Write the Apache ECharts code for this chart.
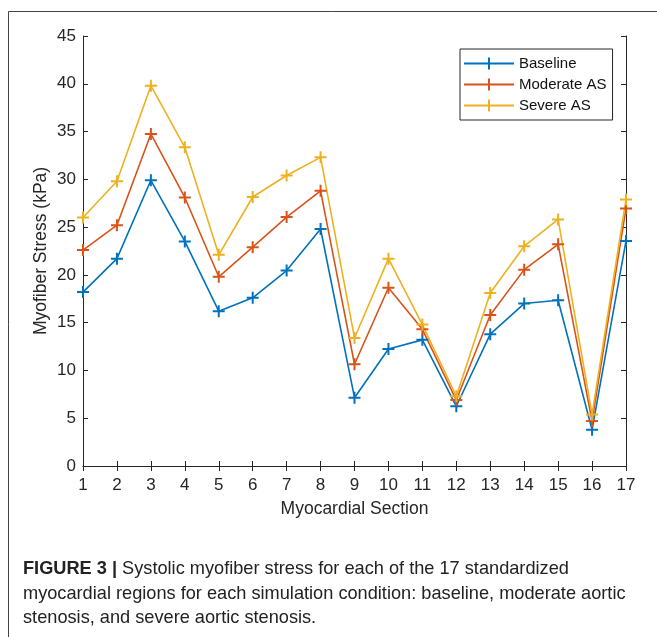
<!DOCTYPE html>
<html>
<head>
<meta charset="utf-8">
<script src="https://cdn.jsdelivr.net/npm/echarts@6/dist/echarts.min.js"></script>
<style>
html,body{margin:0;padding:0;background:#fff;}
#chart{width:657px;height:637px;}
</style>
</head>
<body>
<div id="chart"></div>
<script>
var categories = ['1','2','3','4','5','6','7','8','9','10','11','12','13','14','15','16','17'];
var baseline = [18.2, 21.7, 29.9, 23.5, 16.2, 17.6, 20.45, 24.8, 7.15, 12.25, 13.2, 6.25, 13.8, 17.0, 17.35, 3.8, 23.55];
var moderateAS = [22.6, 25.2, 34.75, 28.1, 19.8, 22.9, 26.05, 28.8, 10.65, 18.65, 14.3, 6.9, 15.8, 20.55, 23.2, 4.7, 26.95];
var severeAS = [26.0, 29.8, 39.8, 33.35, 22.1, 28.15, 30.4, 32.3, 13.4, 21.7, 14.8, 7.3, 18.1, 23.0, 25.8, 5.4, 27.9];
var seriesNames = ['Baseline', 'Moderate AS', 'Severe AS'];
var seriesColors = ['#0072BD', '#D95319', '#EDB120'];
var captionLines = [
  'Systolic myofiber stress for each of the 17 standardized',
  'myocardial regions for each simulation condition: baseline, moderate aortic',
  'stenosis, and severe aortic stenosis.'
];

var FONT = 'Liberation Sans, Arial, sans-serif';
var AX = '#262626';
var plusSymbol = 'path://M5,0L7,0L7,12L5,12Z M0,5L12,5L12,7L0,7Z';
var legendIcon = 'path://M0,5L50,5L50,7L0,7Z M24,0L26,0L26,12L24,12Z';

var chart = echarts.init(document.getElementById('chart'), null, {renderer: 'canvas'});

function mkSeries(name, data, color) {
  return {
    name: name,
    type: 'line',
    data: data,
    xAxisIndex: 0,
    yAxisIndex: 0,
    symbol: plusSymbol,
    symbolSize: 12,
    showAllSymbol: true,
    lineStyle: {color: color, width: 1.6},
    itemStyle: {color: color},
    emphasis: {disabled: true},
    animation: false
  };
}

var option = {
  backgroundColor: '#fff',
  animation: false,
  textStyle: {fontFamily: FONT},
  grid: {left: 83, top: 36, right: 31, bottom: 171, containLabel: false},
  legend: {
    orient: 'vertical',
    left: 460,
    top: 49,
    data: seriesNames.map(function (n) { return {name: n, icon: legendIcon}; }),
    itemWidth: 50,
    itemHeight: 12,
    itemGap: 6,
    padding: [7, 6, 7, 4],
    borderColor: AX,
    borderWidth: 1,
    backgroundColor: '#fff',
    selectedMode: false,
    textStyle: {fontFamily: FONT, fontSize: 15, color: '#111', padding: [1, 0, 0, 0]}
  },
  xAxis: [{
    type: 'category',
    data: categories,
    boundaryGap: false,
    position: 'bottom',
    name: 'Myocardial Section',
    nameLocation: 'middle',
    nameGap: 34,
    nameMoveOverlap: false,
    nameTextStyle: {fontFamily: FONT, fontSize: 17.5, color: AX},
    axisLine: {show: true, lineStyle: {color: AX, width: 1}},
    axisTick: {show: true, inside: true, length: 5, alignWithLabel: true, lineStyle: {color: AX}},
    axisLabel: {fontFamily: FONT, fontSize: 17, color: AX, margin: 11},
    splitLine: {show: false}
  }, {
    type: 'category',
    data: categories,
    boundaryGap: false,
    position: 'top',
    axisLine: {show: true, lineStyle: {color: AX, width: 1}},
    axisTick: {show: true, inside: true, length: 5, lineStyle: {color: AX}},
    axisLabel: {show: false},
    splitLine: {show: false}
  }],
  yAxis: [{
    type: 'value',
    min: 0,
    max: 45,
    interval: 5,
    position: 'left',
    name: 'Myofiber Stress (kPa)',
    nameLocation: 'middle',
    nameGap: 33,
    nameMoveOverlap: false,
    nameTextStyle: {fontFamily: FONT, fontSize: 17.5, color: AX},
    axisLine: {show: true, lineStyle: {color: AX, width: 1}},
    axisTick: {show: true, inside: true, length: 5, lineStyle: {color: AX}},
    axisLabel: {fontFamily: FONT, fontSize: 17, color: AX, margin: 7},
    splitLine: {show: false}
  }, {
    type: 'value',
    min: 0,
    max: 45,
    interval: 5,
    position: 'right',
    axisLine: {show: true, lineStyle: {color: AX, width: 1}},
    axisTick: {show: true, inside: true, length: 5, lineStyle: {color: AX}},
    axisLabel: {show: false},
    splitLine: {show: false}
  }],
  series: [
    mkSeries(seriesNames[0], baseline, seriesColors[0]),
    mkSeries(seriesNames[1], moderateAS, seriesColors[1]),
    mkSeries(seriesNames[2], severeAS, seriesColors[2])
  ],
  graphic: [
    {type: 'line', shape: {x1: 8.5, y1: 11.5, x2: 657, y2: 11.5}, style: {stroke: '#444', lineWidth: 1}, silent: true},
    {type: 'line', shape: {x1: 8.5, y1: 11.5, x2: 8.5, y2: 637}, style: {stroke: '#444', lineWidth: 1}, silent: true},
    {type: 'text', left: 23, top: 560, style: {
      text: '{b|FIGURE 3 |} ' + captionLines[0],
      font: '18.2px ' + FONT, fill: '#222',
      rich: {b: {fontFamily: FONT, fontSize: 18.2, fontWeight: 'bold', fill: '#222'}}
    }, silent: true},
    {type: 'text', left: 23, top: 585, style: {text: captionLines[1], font: '18.2px ' + FONT, fill: '#222'}, silent: true},
    {type: 'text', left: 23, top: 609, style: {text: captionLines[2], font: '18.2px ' + FONT, fill: '#222'}, silent: true}
  ]
};
chart.setOption(option);
</script>
</body>
</html>
